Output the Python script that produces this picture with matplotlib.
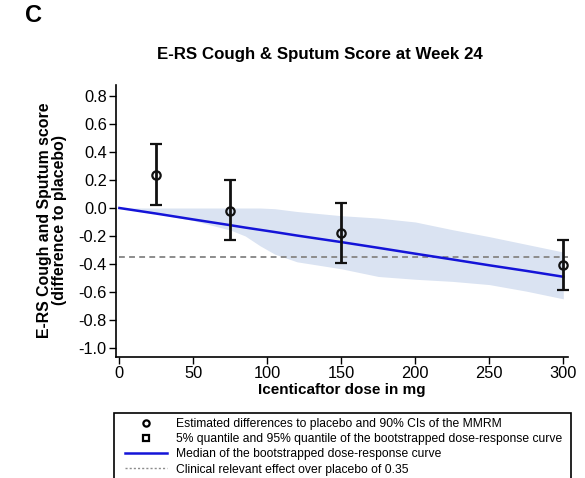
import matplotlib
matplotlib.use('Agg')
import matplotlib.pyplot as plt
from matplotlib.lines import Line2D
from matplotlib.patches import Rectangle
import numpy as np

plt.rcParams['font.family'] = ['Liberation Sans', 'DejaVu Sans']

# MMRM estimates (difference to placebo) with 90% CIs
doses = [25, 75, 150, 300]
est = [0.237, -0.018, -0.182, -0.408]
ci_low = [0.021, -0.232, -0.396, -0.587]
ci_high = [0.457, 0.200, 0.033, -0.230]

# bootstrapped dose-response curve: median and 5%/95% quantiles
curve_dose = [0, 25, 50, 75, 85, 95, 105, 120, 150, 175, 200, 225, 250, 275, 300]
curve_median = [0, -0.040, -0.082, -0.123, -0.140, -0.156, -0.172, -0.197, -0.244,
                -0.285, -0.327, -0.368, -0.410, -0.450, -0.492]
curve_q95 = [0, 0, 0, 0, 0, 0, -0.005, -0.025, -0.055, -0.072, -0.100, -0.155,
             -0.205, -0.260, -0.315]
curve_q05 = [0, -0.040, -0.090, -0.158, -0.200, -0.270, -0.330, -0.385, -0.435,
             -0.490, -0.510, -0.525, -0.548, -0.595, -0.650]

clin_effect = -0.35

yticks = [0.8, 0.6, 0.4, 0.2, 0.0, -0.2, -0.4, -0.6, -0.8, -1.0]
xticks = [0, 50, 100, 150, 200, 250, 300]

W, H = 585, 478
fig = plt.figure(figsize=(W / 100, H / 100), dpi=100)
ax = fig.add_axes([0.198, 0.2538, 0.773, 0.568])

ax.fill_between(curve_dose, curve_q05, curve_q95, color='#dae3f2', lw=0, zorder=1)
ax.hlines(clin_effect, 0, 303, colors='#8c8c8c', linestyles=(0, (3, 2.2)), lw=1.4, zorder=2)
ax.plot(curve_dose, curve_median, color='#1414d8', lw=1.8, zorder=3)

yerr = [np.array(est) - np.array(ci_low), np.array(ci_high) - np.array(est)]
ax.errorbar(doses, est, yerr=yerr, fmt='o', color='#111111', mfc='none', mec='#111111',
            ms=6, mew=1.6, elinewidth=2, capsize=4, capthick=1.6, zorder=4)

ax.set_xlim(-2.4, 303.2)
ax.set_ylim(-1.064, 0.879)
ax.set_xticks(xticks)
ax.set_yticks(yticks)
ax.set_yticklabels([f'{v:.1f}' for v in yticks])
ax.tick_params(direction='out', length=5, width=1, labelsize=11.8, pad=1.5)
for s in ('top', 'right'):
    ax.spines[s].set_visible(False)
for s in ('left', 'bottom'):
    ax.spines[s].set_linewidth(1.2)

ax.set_xlabel('Icenticaftor dose in mg', fontsize=11, fontweight='bold', labelpad=2)
fig.text(52 / W, 1 - 220 / H, 'E-RS Cough and Sputum score\n(difference to placebo)',
         rotation=90, ha='center', va='center', fontsize=11.4, fontweight='bold',
         multialignment='center', linespacing=1.0)

fig.text(320 / W, 1 - 55 / H, 'E-RS Cough & Sputum Score at Week 24',
         ha='center', va='center', fontsize=12.2, fontweight='bold')
fig.text(25 / W, 1 - 16 / H, 'C', ha='left', va='center', fontsize=17, fontweight='bold')

handles = [
    Line2D([], [], ls='none', marker='o', mfc='none', mec='black', mew=1.6, ms=4.5),
    Line2D([], [], ls='none', marker='s', mfc='none', mec='black', mew=1.6, ms=5),
    Line2D([], [], color='#1414d8', lw=1.8),
    Line2D([], [], color='#8c8c8c', lw=1.0, ls=(0, (1.5, 1.5))),
]
labels = [
    'Estimated differences to placebo and 90% CIs of the MMRM',
    '5% quantile and 95% quantile of the bootstrapped dose-response curve',
    'Median of the bootstrapped dose-response curve',
    'Clinical relevant effect over placebo of 0.35',
]
fig.legend(handles, labels, loc='upper left', bbox_to_anchor=(120 / W, 1 - 413 / H),
           fontsize=8.7, frameon=False, labelspacing=0.25, handlelength=3.4,
           handletextpad=0.8, borderpad=0.45, borderaxespad=0)
# legend frame runs past the bottom edge of the figure
fig.patches.append(Rectangle((114 / W, -0.05), (571 - 114) / W, 0.05 + (H - 413) / H,
                             transform=fig.transFigure, fill=False, edgecolor='black',
                             lw=1.2))

fig.savefig('out.png', dpi=100)
